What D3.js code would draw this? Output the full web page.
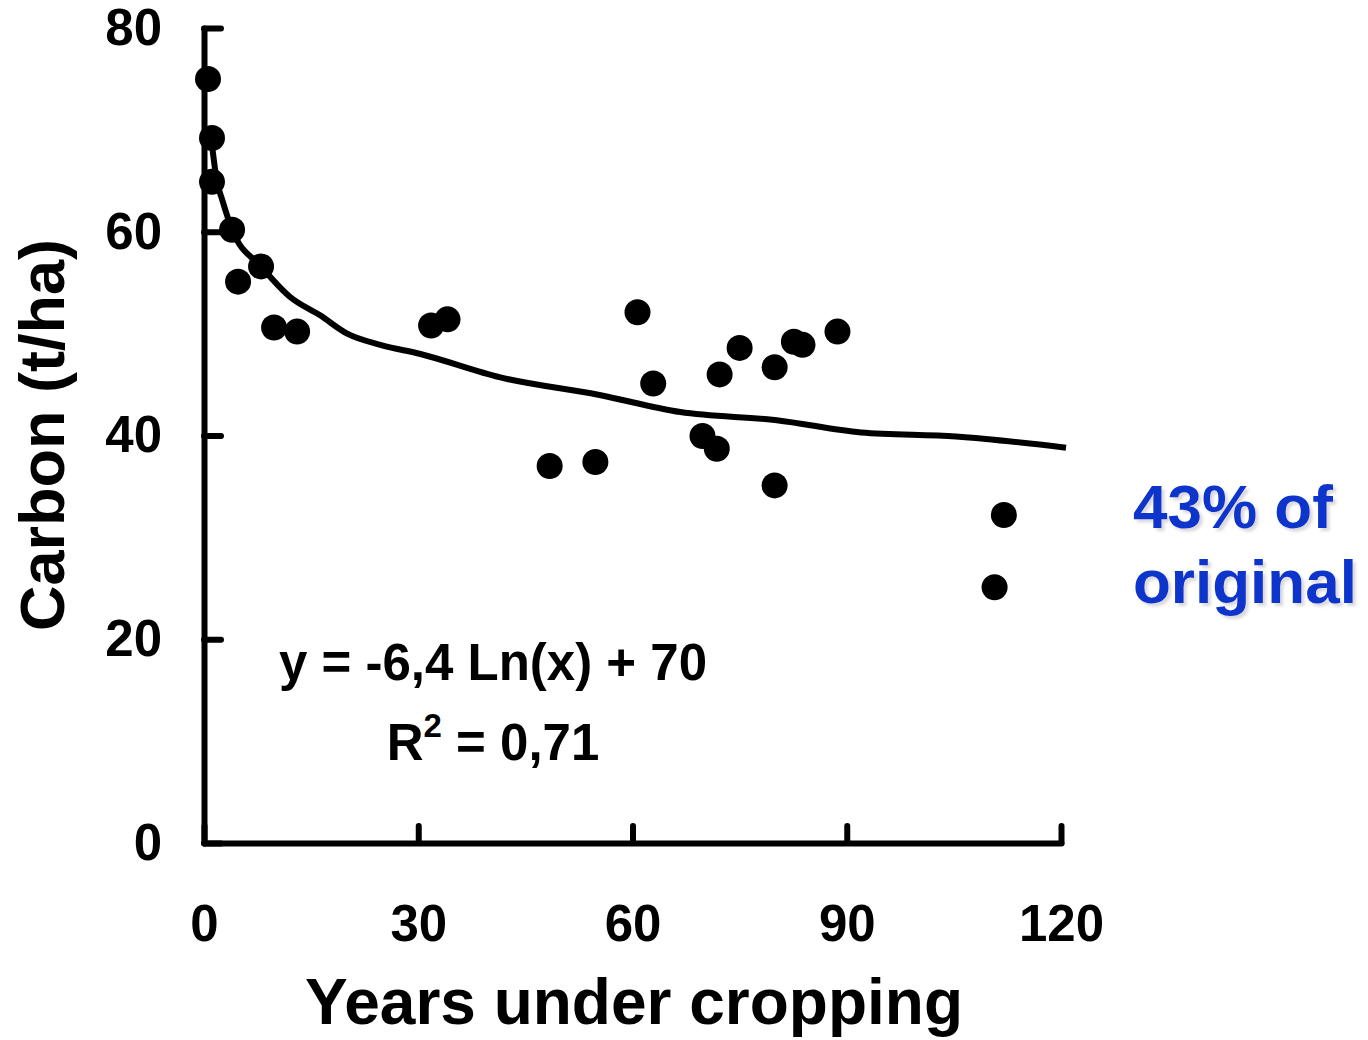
<!DOCTYPE html>
<html>
<head>
<meta charset="utf-8">
<script src="https://cdn.jsdelivr.net/npm/d3@7"></script>
<style>
  html, body { margin: 0; padding: 0; background: #fff; }
  svg { display: block; }
  text { font-family: "Liberation Sans", Arial, sans-serif; font-weight: bold; }
</style>
</head>
<body>
<svg id="chart" width="1368" height="1040"></svg>
<script>
// Observed data: years under cropping vs soil carbon (t/ha)
const years  = [0.56, 1.12, 1.12, 3.93, 7.99, 4.77, 9.81, 13.04, 31.8, 34.1, 48.4, 54.8, 60.7, 62.9, 69.8, 71.8, 72.2, 75.0, 79.9, 79.9, 82.6, 83.8, 88.7, 110.7, 112.0];
const carbon = [75.0, 69.2, 64.9, 60.2, 56.6, 55.1, 50.6, 50.2, 50.8, 51.4, 37.0, 37.4, 52.1, 45.1, 39.95, 38.7, 46.0, 48.6, 46.7, 35.1, 49.2, 48.9, 50.2, 25.1, 32.2];

// Logarithmic trendline
const trendX = [1.12, 1.82, 2.52, 3.93, 7.99, 12.06, 16.26, 20.05, 24.7, 30.3, 41.5, 55.2, 66.7, 80.2, 92.0, 105.3, 120.7];
const trendY = [68.5, 64.9, 63.2, 60.2, 56.6, 53.6, 51.8, 50.0, 48.9, 48.0, 45.7, 44.0, 42.3, 41.5, 40.3, 39.9, 38.8];

const xTicks = [0, 30, 60, 90, 120];
const yTicks = [0, 20, 40, 60, 80];

const xTitle = "Years under cropping";
const yTitle = "Carbon (t/ha)";
const equation = "y = -6,4 Ln(x) + 70";
const rSquared = "0,71";
const noteLines = ["43% of", "original"];

const svg = d3.select("#chart");

const defs = svg.append("defs");
const f = defs.append("filter").attr("id", "shadow").attr("x", "-10%").attr("y", "-10%").attr("width", "120%").attr("height", "130%");
f.append("feDropShadow").attr("dx", 3).attr("dy", 3).attr("stdDeviation", 1.5)
  .attr("flood-color", "#9090a0").attr("flood-opacity", 0.35);

const x = d3.scaleLinear().domain([0, 120]).range([204, 1061]);
const y = d3.scaleLinear().domain([0, 80]).range([843, 28]);

const SW = 6;

// Y axis
const gy = svg.append("g")
  .attr("transform", `translate(${x(0)},0)`)
  .call(d3.axisLeft(y).tickValues(yTicks).tickSizeInner(-17).tickSizeOuter(0).tickPadding(42));
gy.select(".domain").attr("stroke", "#000").attr("stroke-width", SW).attr("stroke-linecap", "round");
gy.selectAll(".tick line").attr("stroke", "#000").attr("stroke-width", SW).attr("stroke-linecap", "round");
gy.selectAll(".tick text").attr("font-size", 51).attr("fill", "#000")
  .style("font-family", '"Liberation Sans", Arial, sans-serif').style("font-weight", "bold");

// X axis
const gx = svg.append("g")
  .attr("transform", `translate(0,${y(0)})`)
  .call(d3.axisBottom(x).tickValues(xTicks).tickSizeInner(-17).tickSizeOuter(0).tickPadding(62));
gx.select(".domain").attr("stroke", "#000").attr("stroke-width", SW).attr("stroke-linecap", "round");
gx.selectAll(".tick line").attr("stroke", "#000").attr("stroke-width", SW).attr("stroke-linecap", "round");
gx.selectAll(".tick text").attr("font-size", 51).attr("fill", "#000")
  .style("font-family", '"Liberation Sans", Arial, sans-serif').style("font-weight", "bold");

// Trendline
const trend = trendX.map((d, i) => [d, trendY[i]]);
svg.append("path")
  .datum(trend)
  .attr("fill", "none")
  .attr("stroke", "#000")
  .attr("stroke-width", SW)
  .attr("stroke-linejoin", "round")
  .attr("d", d3.line().x(d => x(d[0])).y(d => y(d[1])).curve(d3.curveMonotoneX));

// Points
svg.append("g").selectAll("circle")
  .data(years.map((d, i) => [d, carbon[i]]))
  .join("circle")
  .attr("cx", d => x(d[0]))
  .attr("cy", d => y(d[1]))
  .attr("r", 13)
  .attr("fill", "#000");

// Axis titles
svg.append("text")
  .attr("x", 634).attr("y", 1024)
  .attr("text-anchor", "middle")
  .attr("font-size", 64)
  .attr("fill", "#000")
  .text(xTitle);

svg.append("text")
  .attr("transform", "translate(64,435) rotate(-90)")
  .attr("text-anchor", "middle")
  .attr("font-size", 63)
  .attr("fill", "#000")
  .text(yTitle);

// Equation
svg.append("text")
  .attr("x", 493).attr("y", 680)
  .attr("text-anchor", "middle")
  .attr("font-size", 51)
  .attr("fill", "#000")
  .text(equation);

const r2 = svg.append("text")
  .attr("x", 493).attr("y", 760)
  .attr("text-anchor", "middle")
  .attr("font-size", 51)
  .attr("fill", "#000");
r2.append("tspan").text("R");
r2.append("tspan").attr("font-size", 33).attr("dy", -23).text("2");
r2.append("tspan").attr("dy", 23).text(" = " + rSquared);

// Note in blue with faint shadow
const noteG = svg.append("g").attr("filter", "url(#shadow)");
noteLines.forEach((t, i) => {
  noteG.append("text")
    .attr("x", 1133).attr("y", 528 + i * 75)
    .attr("font-size", 62)
    .attr("fill", "#0a34cc")
    .text(t);
});
</script>
</body>
</html>
